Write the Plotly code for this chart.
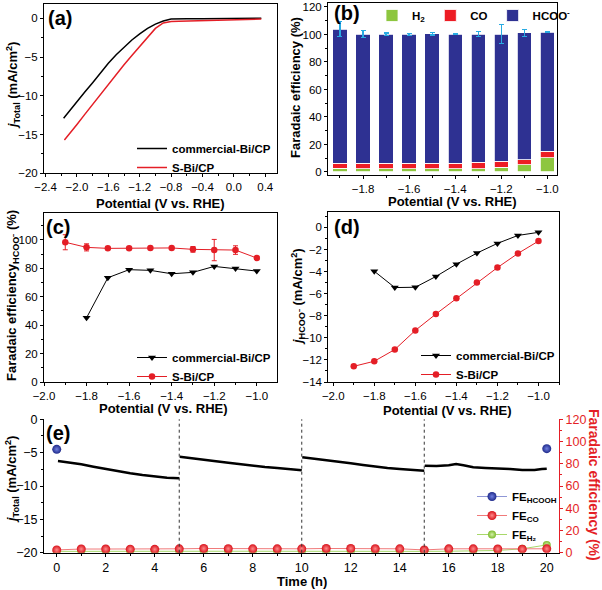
import plotly.graph_objects as go

# ---------------- Panel (a): LSV curves ----------------
lsv_v_commercial = [-2.17, -2.1, -2.0, -1.9, -1.8, -1.7, -1.6, -1.5, -1.4, -1.3, -1.2, -1.1, -1.0, -0.9, -0.8, -0.7, -0.6, -0.4, -0.2, 0.0, 0.2, 0.35]
lsv_j_commercial = [-12.9, -12.0, -10.75, -9.5, -8.3, -7.0, -5.8, -4.7, -3.7, -2.8, -2.0, -1.3, -0.75, -0.35, -0.1, -0.06, -0.05, -0.04, -0.03, -0.02, 0.0, 0.02]
lsv_v_sbi = [-2.16, -2.1, -2.0, -1.9, -1.8, -1.7, -1.6, -1.5, -1.4, -1.3, -1.2, -1.1, -1.0, -0.9, -0.8, -0.7, -0.6, -0.4, -0.2, 0.0, 0.2, 0.35]
lsv_j_sbi = [-15.7, -15.0, -13.7, -12.4, -11.1, -9.8, -8.5, -7.3, -6.0, -4.8, -3.6, -2.4, -1.3, -0.6, -0.42, -0.38, -0.35, -0.3, -0.25, -0.2, -0.15, -0.1]

# ---------------- Panel (b): stacked Faradaic efficiency ----------------
fe_potential = [-1.9, -1.8, -1.7, -1.6, -1.5, -1.4, -1.3, -1.2, -1.1, -1.0]
fe_h2 = [2.6, 2.5, 2.5, 2.2, 2.2, 2.2, 2.4, 3.6, 5.3, 10.4]
fe_co = [3.9, 3.7, 3.7, 4.0, 4.0, 4.0, 4.6, 4.1, 3.6, 4.8]
fe_hcoo = [97.4, 94.0, 93.9, 93.8, 94.2, 94.1, 93.2, 92.6, 92.4, 86.4]
fe_total_err = [5.3, 2.5, 1.0, 0.5, 0.8, 0.4, 1.8, 6.8, 2.5, 0.3]

# ---------------- Panel (c): FE HCOO- ----------------
c_potential_commercial = [-1.8, -1.7, -1.6, -1.5, -1.4, -1.3, -1.2, -1.1, -1.0]
c_fe_commercial = [45.2, 73.4, 79.1, 78.6, 76.2, 77.2, 81.4, 80.0, 78.1]
c_potential_sbi = [-1.9, -1.8, -1.7, -1.6, -1.5, -1.4, -1.3, -1.2, -1.1, -1.0]
c_fe_sbi = [98.4, 94.8, 94.1, 94.1, 94.4, 94.4, 93.4, 92.9, 92.9, 87.3]
c_fe_sbi_err = [5.3, 2.5, 0.7, 0.5, 0.5, 0.5, 2.0, 7.5, 3.0, 1.0]

# ---------------- Panel (d): partial current density HCOO- ----------------
d_potential_commercial = [-1.8, -1.7, -1.6, -1.5, -1.4, -1.3, -1.2, -1.1, -1.0]
d_j_commercial = [-3.97, -5.45, -5.42, -4.45, -3.33, -2.33, -1.45, -0.73, -0.45]
d_potential_sbi = [-1.9, -1.8, -1.7, -1.6, -1.5, -1.4, -1.3, -1.2, -1.1, -1.0]
d_j_sbi = [-12.58, -12.12, -11.06, -9.33, -7.85, -6.42, -5.0, -3.64, -2.36, -1.24]

# ---------------- Panel (e): stability test ----------------
e_t_seg1 = [0.05, 0.5, 1.0, 1.5, 2.0, 2.5, 3.0, 3.5, 4.0, 4.5, 5.0]
e_j_seg1 = [-6.25, -6.45, -6.75, -7.1, -7.45, -7.8, -8.1, -8.35, -8.6, -8.75, -8.85]
e_t_seg2 = [5.02, 5.5, 6.0, 6.5, 7.0, 7.5, 8.0, 8.5, 9.0, 9.5, 10.0]
e_j_seg2 = [-5.6, -5.85, -6.1, -6.3, -6.5, -6.75, -6.95, -7.15, -7.3, -7.45, -7.65]
e_t_seg3 = [10.02, 10.5, 11.0, 11.5, 12.0, 12.5, 13.0, 13.5, 14.0, 14.5, 15.0]
e_j_seg3 = [-5.7, -5.9, -6.1, -6.35, -6.6, -6.85, -7.1, -7.3, -7.45, -7.6, -7.7]
e_t_seg4 = [15.02, 15.5, 16.0, 16.3, 16.6, 17.0, 17.5, 18.0, 18.5, 19.0, 19.5, 19.8, 20.0]
e_j_seg4 = [-6.95, -7.0, -6.9, -6.7, -6.9, -7.2, -7.3, -7.35, -7.45, -7.6, -7.6, -7.45, -7.4]
segment_boundaries_h = [5, 10, 15]

e_fe_time = [0, 1, 2, 3, 4, 5, 6, 7, 8, 9, 10, 11, 12, 13, 14, 15, 16, 17, 18, 19, 20]
e_fe_co = [2.5, 3.3, 3.3, 3.2, 3.0, 3.5, 3.8, 3.6, 3.5, 3.5, 3.5, 3.8, 3.8, 3.6, 3.5, 2.5, 3.5, 3.5, 3.3, 3.2, 3.5]
e_fe_h2 = [1.2, 1.3, 1.3, 1.2, 1.2, 1.3, 1.4, 1.3, 1.3, 1.2, 1.3, 1.3, 1.3, 1.2, 1.2, 1.2, 1.3, 1.5, 2.0, 3.5, 7.0]
e_fe_hcooh_time = [0, 20]
e_fe_hcooh = [93.0, 93.6]

FONT = "Liberation Sans, Arial, sans-serif"
RED = "#e41e26"
GREEN = "#8dc63f"
BLUE = "#2e3192"

fig = go.Figure()

# (a)
fig.add_trace(go.Scatter(x=lsv_v_commercial, y=lsv_j_commercial, mode="lines", name="commercial-Bi/CP",
                         line=dict(color="black", width=1.5), xaxis="x", yaxis="y", legend="legend"))
fig.add_trace(go.Scatter(x=lsv_v_sbi, y=lsv_j_sbi, mode="lines", name="S-Bi/CP",
                         line=dict(color=RED, width=1.5), xaxis="x", yaxis="y", legend="legend"))

# (b)
bar_line = dict(color="white", width=0.8)
fig.add_trace(go.Bar(x=fe_potential, y=fe_h2, name="H<sub>2</sub>", marker=dict(color=GREEN, line=bar_line),
                     width=0.062, xaxis="x2", yaxis="y2", legend="legend2"))
fig.add_trace(go.Bar(x=fe_potential, y=fe_co, name="CO", marker=dict(color="#ed1c24", line=bar_line),
                     width=0.062, xaxis="x2", yaxis="y2", legend="legend2"))
fig.add_trace(go.Bar(x=fe_potential, y=fe_hcoo, name="HCOO<sup>-</sup>", marker=dict(color=BLUE, line=bar_line),
                     width=0.062, xaxis="x2", yaxis="y2", legend="legend2",
                     error_y=dict(type="data", array=fe_total_err, color="#29abe2", thickness=1.2, width=2.5)))

# (c)
fig.add_trace(go.Scatter(x=c_potential_commercial, y=c_fe_commercial, mode="lines+markers", name="commercial-Bi/CP",
                         line=dict(color="black", width=1), marker=dict(symbol="triangle-down", size=7, color="black"),
                         xaxis="x3", yaxis="y3", legend="legend3"))
fig.add_trace(go.Scatter(x=c_potential_sbi, y=c_fe_sbi, mode="lines+markers", name="S-Bi/CP",
                         line=dict(color=RED, width=1), marker=dict(symbol="circle", size=6.5, color=RED),
                         error_y=dict(type="data", array=c_fe_sbi_err, color=RED, thickness=1, width=2.5),
                         xaxis="x3", yaxis="y3", legend="legend3"))

# (d)
fig.add_trace(go.Scatter(x=d_potential_commercial, y=d_j_commercial, mode="lines+markers", name="commercial-Bi/CP",
                         line=dict(color="black", width=1), marker=dict(symbol="triangle-down", size=7, color="black"),
                         xaxis="x4", yaxis="y4", legend="legend4"))
fig.add_trace(go.Scatter(x=d_potential_sbi, y=d_j_sbi, mode="lines+markers", name="S-Bi/CP",
                         line=dict(color=RED, width=1), marker=dict(symbol="circle", size=6.5, color=RED),
                         xaxis="x4", yaxis="y4", legend="legend4"))

# (e) current
for ts, js in [(e_t_seg1, e_j_seg1), (e_t_seg2, e_j_seg2), (e_t_seg3, e_j_seg3), (e_t_seg4, e_j_seg4)]:
    fig.add_trace(go.Scatter(x=ts, y=js, mode="lines", line=dict(color="black", width=2.5),
                             showlegend=False, xaxis="x5", yaxis="y5"))

# (e) FE
hcooh_marker = dict(symbol="circle", size=9, color="#1f2a8a", gradient=dict(type="radial", color="#6f7fe0"))
co_marker = dict(symbol="circle", size=9, color="#d8121b", gradient=dict(type="radial", color="#ff8a8a"))
h2_marker = dict(symbol="circle", size=8, color="#7cbb2c", gradient=dict(type="radial", color="#d4f0a8"))
fig.add_trace(go.Scatter(x=e_fe_time, y=e_fe_h2, mode="lines+markers", showlegend=False,
                         line=dict(color="#a8d86a", width=1), marker=h2_marker, xaxis="x5", yaxis="y6"))
fig.add_trace(go.Scatter(x=e_fe_time, y=e_fe_co, mode="lines+markers", showlegend=False,
                         line=dict(color="#f07a7a", width=1), marker=co_marker, xaxis="x5", yaxis="y6"))
fig.add_trace(go.Scatter(x=e_fe_hcooh_time, y=e_fe_hcooh, mode="markers", showlegend=False,
                         marker=hcooh_marker, xaxis="x5", yaxis="y6"))
# legend entries for (e)
fig.add_trace(go.Scatter(x=[None], y=[None], mode="lines+markers", name="FE<sub>HCOOH</sub>",
                         line=dict(color="#8f97d6", width=1), marker=hcooh_marker,
                         xaxis="x5", yaxis="y6", legend="legend5"))
fig.add_trace(go.Scatter(x=[None], y=[None], mode="lines+markers", name="FE<sub>CO</sub>",
                         line=dict(color="#f07a7a", width=1), marker=co_marker,
                         xaxis="x5", yaxis="y6", legend="legend5"))
fig.add_trace(go.Scatter(x=[None], y=[None], mode="lines+markers", name="FE<sub>H₂</sub>",
                         line=dict(color="#a8d86a", width=1), marker=h2_marker,
                         xaxis="x5", yaxis="y6", legend="legend5"))

for xb in segment_boundaries_h:
    fig.add_shape(type="line", x0=xb, x1=xb, y0=0, y1=1, xref="x5", yref="y5 domain",
                  line=dict(color="#333333", width=1, dash="dot"))


def ax(**kw):
    base = dict(showline=True, linecolor="black", linewidth=1, mirror=True, ticks="outside", ticklen=3,
                tickwidth=1, tickcolor="black", showgrid=False, zeroline=False,
                tickfont=dict(family=FONT, size=11.5, color="black"),
                minor=dict(ticks="outside", ticklen=2, tickcolor="black", showgrid=False))
    base.update(kw)
    return base


def px(v):
    return v / 602.0


def py(v):
    return 1 - v / 590.0


LEG_FONT = dict(family=FONT, size=11.5, color="black", weight="bold")
layout = dict(
    width=602, height=590, margin=dict(l=0, r=0, t=0, b=0, autoexpand=False),
    paper_bgcolor="white", plot_bgcolor="white", barmode="stack",
    font=dict(family=FONT, color="black"),
    xaxis=ax(domain=[px(44), px(277)], range=[-2.42, 0.55], anchor="y", tick0=-2.4, dtick=0.4,
             minor=dict(ticks="outside", ticklen=2, dtick=0.2, tick0=-2.4, showgrid=False), tickformat=".1f"),
    yaxis=ax(domain=[py(173.3), py(4)], range=[-20, 1.85], anchor="x", dtick=5,
             minor=dict(ticks="outside", ticklen=2, dtick=2.5, showgrid=False)),
    xaxis2=ax(domain=[px(328), px(557)], range=[-1.952, -0.958], anchor="y2", tick0=-1.8, dtick=0.2,
              minor=dict(ticks="outside", ticklen=2, dtick=0.1, tick0=-1.9, showgrid=False), tickformat=".1f"),
    yaxis2=ax(domain=[py(175), py(3)], range=[-2.2, 122.9], anchor="x2", dtick=20,
              minor=dict(ticks="outside", ticklen=2, dtick=10, showgrid=False)),
    xaxis3=ax(domain=[px(44), px(277)], range=[-2.0, -0.905], anchor="y3", tick0=-2.0, dtick=0.2,
              minor=dict(ticks="outside", ticklen=2, dtick=0.1, showgrid=False), tickformat=".1f"),
    yaxis3=ax(domain=[py(382), py(213)], range=[0, 119], anchor="x3", dtick=20,
              minor=dict(ticks="outside", ticklen=2, dtick=10, showgrid=False)),
    xaxis4=ax(domain=[px(328.3), px(559)], range=[-2.024, -0.9], anchor="y4", tick0=-2.0, dtick=0.2,
              minor=dict(ticks="outside", ticklen=2, dtick=0.1, showgrid=False), tickformat=".1f"),
    yaxis4=ax(domain=[py(382), py(211.7)], range=[-14, 1.42], anchor="x4", dtick=2,
              minor=dict(ticks="outside", ticklen=2, dtick=1, showgrid=False)),
    xaxis5=ax(domain=[px(44), px(559)], range=[-0.52, 20.5], anchor="y5", dtick=2, mirror=False,
              tickfont=dict(family=FONT, size=12.5, color="black"),
              minor=dict(ticks="outside", ticklen=2, dtick=1, showgrid=False)),
    yaxis5=ax(domain=[py(552.7), py(419.3)], range=[-20, 0], anchor="x5", dtick=5, mirror=False,
              tickfont=dict(family=FONT, size=12.5, color="black"),
              minor=dict(ticks="outside", ticklen=2, dtick=2.5, showgrid=False)),
    yaxis6=ax(overlaying="y5", side="right", anchor="x5", range=[0, 120], dtick=20, mirror=False,
              linecolor=RED, tickcolor=RED, tickfont=dict(family=FONT, size=12.5, color=RED),
              minor=dict(ticks="outside", ticklen=2, dtick=10, tickcolor=RED, showgrid=False)),
    legend=dict(x=px(132), y=py(134), xanchor="left", yanchor="top", bgcolor="rgba(0,0,0,0)",
                font=LEG_FONT, tracegroupgap=0, itemwidth=30),
    legend2=dict(x=px(372), y=py(1), xanchor="left", yanchor="top", orientation="h", bgcolor="rgba(0,0,0,0)",
                 font=LEG_FONT, itemwidth=30, traceorder="normal"),
    legend3=dict(x=px(132), y=py(343), xanchor="left", yanchor="top", bgcolor="rgba(0,0,0,0)",
                 font=LEG_FONT, tracegroupgap=0, itemwidth=30),
    legend4=dict(x=px(416), y=py(341), xanchor="left", yanchor="top", bgcolor="rgba(0,0,0,0)",
                 font=LEG_FONT, tracegroupgap=0, itemwidth=30),
    legend5=dict(x=px(472), y=py(482), xanchor="left", yanchor="top", bgcolor="rgba(0,0,0,0)",
                 font=dict(family=FONT, size=11.5, color="black", weight="bold"), tracegroupgap=0, itemwidth=30),
)
fig.update_layout(**layout)

annotations = [
    dict(text="<b>(a)</b>", x=px(60), y=py(18)),
    dict(text="<b>(b)</b>", x=px(347), y=py(13)),
    dict(text="<b>(c)</b>", x=px(58), y=py(227)),
    dict(text="<b>(d)</b>", x=px(347), y=py(227)),
    dict(text="<b>(e)</b>", x=px(58), y=py(433)),
]
for a in annotations:
    a.update(xref="paper", yref="paper", showarrow=False, xanchor="center", yanchor="middle",
             font=dict(family=FONT, size=20, color="black"))

titles = [
    ("<b>Potential (V vs. RHE)</b>", 161, 203, 0, "black"),
    ("<b>Potential (V vs. RHE)</b>", 452, 201, 0, "black"),
    ("<b>Potential (V vs. RHE)</b>", 163, 409, 0, "black"),
    ("<b>Potential (V vs. RHE)</b>", 447, 410, 0, "black"),
    ("<b>Time (h)</b>", 302, 581, 0, "black"),
    ("<b><i>j</i><sub>Total</sub> (mA/cm<sup>2</sup>)</b>", 13, 86, -90, "black"),
    ("<b>Faradaic efficiency (%)</b>", 296, 88, -90, "black"),
    ("<b>Faradaic efficiency<sub>HCOO⁻</sub> (%)</b>", 12, 296, -90, "black"),
    ("<b><i>j</i><sub>HCOO⁻</sub> (mA/cm<sup>2</sup>)</b>", 298, 297, -90, "black"),
    ("<b><i>j</i><sub>Total</sub> (mA/cm<sup>2</sup>)</b>", 12, 480, -90, "black"),
    ("<b>Faradaic efficiency (%)</b>", 594, 485, 90, RED),
]
for text, x, y, ang, col in titles:
    annotations.append(dict(text=text, x=px(x), y=py(y), xref="paper", yref="paper", showarrow=False,
                            xanchor="center", yanchor="middle", textangle=ang,
                            font=dict(family=FONT, size=13 if ang != 90 else 14, color=col)))
fig.update_layout(annotations=annotations)

fig.write_html("out.html", config={"displayModeBar": False}, post_script="document.body.style.margin='0';")
